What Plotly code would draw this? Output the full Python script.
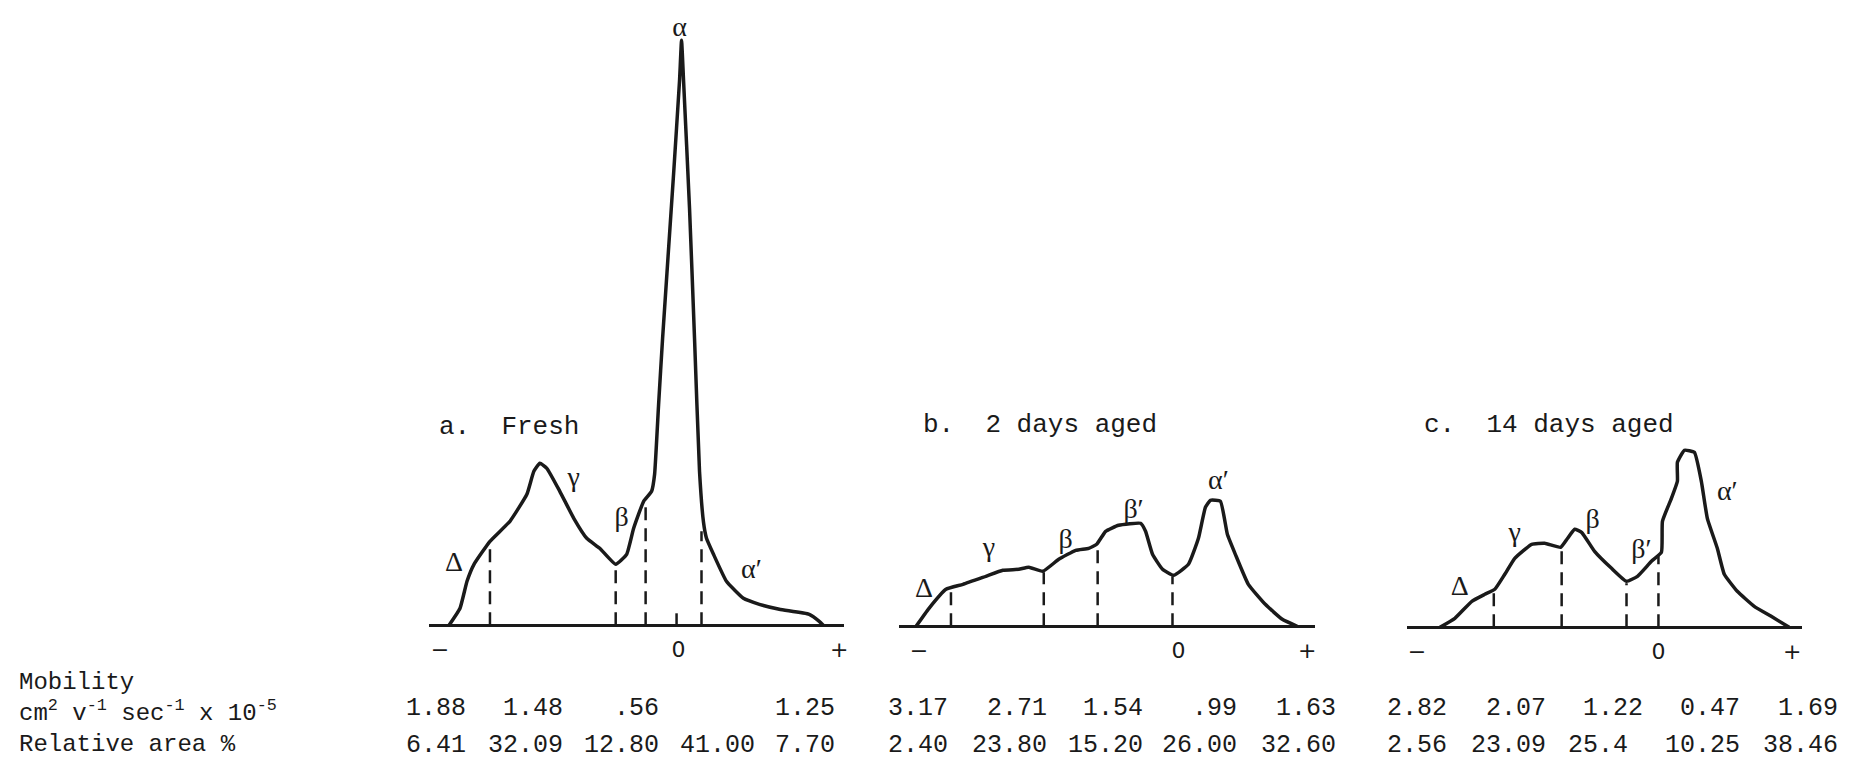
import plotly.graph_objects as go

W, H = 1859, 759
PX = 100  # pixels per data unit on every panel

# ---- traced curves (mobility units, relative height) ----
fresh_x = [-2.28, -2.17, -2.10, -2.03, -1.87, -1.67, -1.50, -1.43, -1.37, -1.30, -1.17, -1.03,
           -0.90, -0.77, -0.61, -0.50, -0.43, -0.33, -0.25, -0.22, -0.18, -0.14, -0.03, 0.03,
           0.05, 0.07, 0.13, 0.18, 0.23, 0.27, 0.30, 0.37, 0.50, 0.67, 0.83, 1.03, 1.33, 1.43, 1.47]
fresh_y = [0.00, 0.17, 0.44, 0.61, 0.84, 1.04, 1.31, 1.54, 1.62, 1.57, 1.34, 1.07,
           0.87, 0.77, 0.61, 0.71, 0.97, 1.24, 1.34, 1.51, 2.21, 2.87, 4.51, 5.45,
           5.85, 5.45, 4.17, 2.87, 1.54, 1.03, 0.87, 0.71, 0.44, 0.27, 0.21, 0.16, 0.11, 0.04, 0.00]

aged2_x = [-2.60, -2.47, -2.30, -2.13, -1.90, -1.73, -1.57, -1.47, -1.33, -1.17, -1.00, -0.87,
           -0.79, -0.70, -0.57, -0.35, -0.30, -0.23, -0.13, -0.02, 0.13, 0.23, 0.30, 0.35,
           0.45, 0.52, 0.60, 0.73, 0.90, 1.07, 1.22]
aged2_y = [0.00, 0.18, 0.37, 0.42, 0.50, 0.56, 0.57, 0.59, 0.55, 0.67, 0.76, 0.78,
           0.82, 0.95, 1.01, 1.03, 0.95, 0.72, 0.57, 0.51, 0.62, 0.88, 1.19, 1.26,
           1.25, 0.92, 0.72, 0.42, 0.22, 0.07, 0.00]

aged14_x = [-2.19, -2.04, -1.87, -1.74, -1.64, -1.54, -1.44, -1.27, -1.14, -0.98, -0.91, -0.84,
            -0.77, -0.64, -0.47, -0.32, -0.21, -0.07, 0.03, 0.04, 0.13, 0.19, 0.19, 0.26,
            0.36, 0.43, 0.49, 0.59, 0.66, 0.79, 0.96, 1.13, 1.31]
aged14_y = [0.00, 0.09, 0.26, 0.33, 0.38, 0.53, 0.69, 0.83, 0.84, 0.80, 0.89, 0.98,
            0.95, 0.76, 0.59, 0.46, 0.51, 0.66, 0.75, 1.06, 1.29, 1.46, 1.65, 1.77,
            1.75, 1.46, 1.09, 0.79, 0.53, 0.36, 0.21, 0.11, 0.00]

# ---- dashed boundaries between fractions ----
fresh_cuts_x = [-1.87, -0.61, -0.31, 0.00, 0.25]
fresh_cuts_y = [0.84, 0.58, 1.24, 0.12, 0.94]
aged2_cuts_x = [-2.25, -1.32, -0.78, -0.03]
aged2_cuts_y = [0.36, 0.54, 0.80, 0.50]
aged14_cuts_x = [-1.65, -0.97, -0.32, 0.00]
aged14_cuts_y = [0.36, 0.78, 0.44, 0.71]

# ---- hand written fraction names ----
fresh_names = ["Δ", "γ", "β", "α", "α′"]
fresh_name_x = [-2.23, -1.03, -0.55, 0.03, 0.75]
fresh_name_y = [0.61, 1.46, 1.06, 5.96, 0.54]
aged2_names = ["Δ", "γ", "β", "β′", "α′"]
aged2_name_x = [-2.52, -1.87, -1.10, -0.42, 0.43]
aged2_name_y = [0.36, 0.77, 0.85, 1.15, 1.44]
aged14_names = ["Δ", "γ", "β", "β′", "α′"]
aged14_name_x = [-1.99, -1.44, -0.66, -0.17, 0.69]
aged14_name_y = [0.39, 0.93, 1.06, 0.76, 1.34]

# ---- table under the curves ----
fresh_mobility = ["1.88", "1.48", ".56", "", "1.25"]
fresh_area = ["6.41", "32.09", "12.80", "41.00", "7.70"]
aged2_mobility = ["3.17", "2.71", "1.54", ".99", "1.63"]
aged2_area = ["2.40", "23.80", "15.20", "26.00", "32.60"]
aged14_mobility = ["2.82", "2.07", "1.22", "0.47", "1.69"]
aged14_area = ["2.56", "23.09", "25.4\u00a0", "10.25", "38.46"]

tick_text = ["−", "0", "+"]

# panel geometry in pixels
panels = [
    dict(title="a.\u00a0 Fresh", x=fresh_x, y=fresh_y, cx=fresh_cuts_x, cy=fresh_cuts_y,
         names=fresh_names, nx=fresh_name_x, ny=fresh_name_y, mob=fresh_mobility, area=fresh_area,
         left=422, right=838, zero=670, base=617.3, ticks=[-2.37, 0.02, 1.63],
         title_at=(-2.40, 1.98), cols=[460, 557, 653, 750, 830]),
    dict(title="b.\u00a0 2 days aged", x=aged2_x, y=aged2_y, cx=aged2_cuts_x, cy=aged2_cuts_y,
         names=aged2_names, nx=aged2_name_x, ny=aged2_name_y, mob=aged2_mobility, area=aged2_area,
         left=893, right=1310, zero=1170, base=618.3, ticks=[-2.57, 0.03, 1.32],
         title_at=(-2.55, 2.01), cols=[943, 1042, 1138, 1233, 1332]),
    dict(title="c.\u00a0 14 days aged", x=aged14_x, y=aged14_y, cx=aged14_cuts_x, cy=aged14_cuts_y,
         names=aged14_names, nx=aged14_name_x, ny=aged14_name_y, mob=aged14_mobility, area=aged14_area,
         left=1402, right=1798, zero=1654, base=619.3, ticks=[-2.42, 0.0, 1.34],
         title_at=(-2.37, 2.02), cols=[1443, 1542, 1640, 1737, 1835]),
]

MONO = "Liberation Mono"
INK = "#1a1a1a"

fig = go.Figure()
layout = dict(width=W, height=H, margin=dict(l=0, r=0, t=0, b=0),
              paper_bgcolor="white", plot_bgcolor="white", showlegend=False)
annotations = []

for i, p in enumerate(panels):
    n = "" if i == 0 else str(i + 1)
    xa, ya = "x" + n, "y" + n

    # dashed dividers
    dx, dy = [], []
    for cx, cy in zip(p["cx"], p["cy"]):
        dx += [cx, cx, None]
        dy += [0, cy, None]
    fig.add_trace(go.Scatter(x=dx, y=dy, mode="lines", xaxis=xa, yaxis=ya,
                             line=dict(color=INK, width=2.5, dash="13px,8px")))
    # curve
    fig.add_trace(go.Scatter(x=p["x"], y=p["y"], mode="lines", xaxis=xa, yaxis=ya,
                             line=dict(color=INK, width=3.5, shape="spline", smoothing=0.4)))
    # fraction names
    fig.add_trace(go.Scatter(x=p["nx"], y=p["ny"], mode="text", text=p["names"],
                             xaxis=xa, yaxis=ya, cliponaxis=False,
                             textfont=dict(family="Liberation Serif", size=28, color=INK)))

    layout["xaxis" + n] = dict(domain=[p["left"] / W, p["right"] / W],
                               range=[(p["left"] - p["zero"]) / PX, (p["right"] - p["zero"]) / PX],
                               anchor="free", position=1 - p["base"] / H,
                               showline=True, linecolor=INK, linewidth=3,
                               showgrid=False, zeroline=False, ticks="",
                               tickvals=p["ticks"], ticktext=tick_text, ticklabelstandoff=3,
                               tickfont=dict(family="DejaVu Sans", size=22, color=INK))
    layout["yaxis" + n] = dict(domain=[0, 1], anchor=xa,
                               range=[(p["base"] - H) / PX, p["base"] / PX],
                               visible=False)

    annotations.append(dict(text=p["title"], xref=xa, yref=ya, x=p["title_at"][0], y=p["title_at"][1],
                            xanchor="left", yanchor="middle", showarrow=False,
                            font=dict(family=MONO, size=26, color=INK)))
    for col, m, a in zip(p["cols"], p["mob"], p["area"]):
        for txt, row in ((m, 700), (a, 737)):
            if txt:
                annotations.append(dict(text=txt, xref="paper", yref="paper", x=col / W, y=1 - row / H,
                                        xanchor="right", yanchor="middle", showarrow=False,
                                        borderpad=0, font=dict(family=MONO, size=25, color=INK)))

row_labels = ["Mobility",
              "cm<sup>2</sup> v<sup>-1</sup> sec<sup>-1</sup> x 10<sup>-5</sup>",
              "Relative area %"]
annotations.append(dict(text="<br>".join(row_labels), xref="paper", yref="paper", x=10 / W, y=1 - 705 / H,
                        xanchor="left", yanchor="middle", align="left", showarrow=False, borderpad=0,
                        font=dict(family=MONO, size=24, color=INK)))

layout["annotations"] = annotations
fig.update_layout(**layout)
fig.write_html("out.html")
